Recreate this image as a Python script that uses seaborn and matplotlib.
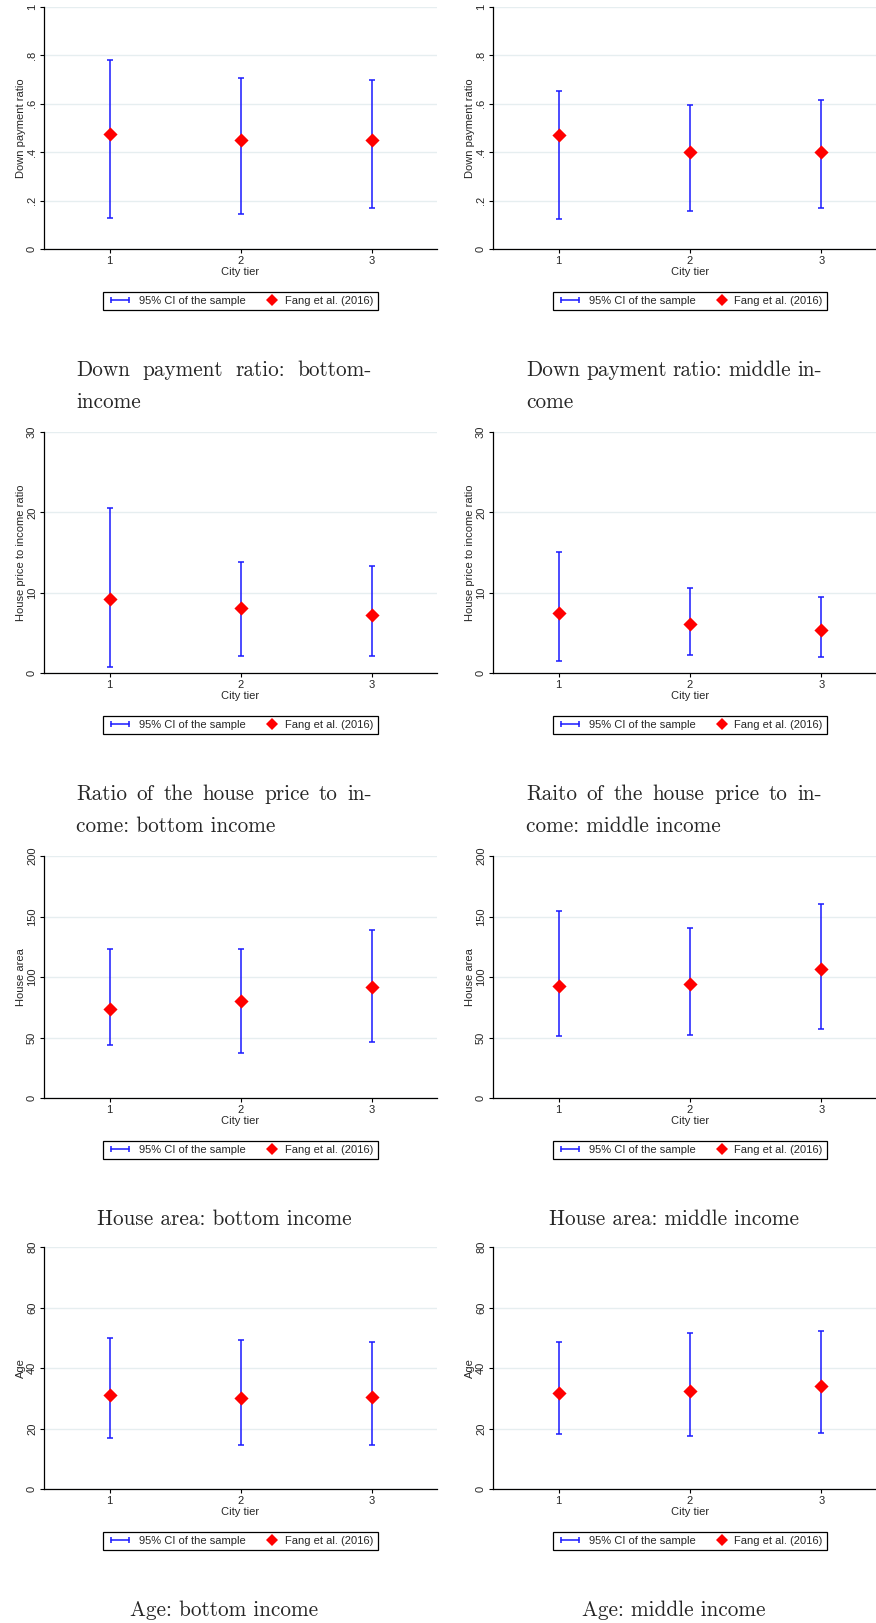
import matplotlib
matplotlib.use("Agg")
import numpy as np
import matplotlib.pyplot as plt
import seaborn as sns
from matplotlib.lines import Line2D
from matplotlib.legend_handler import HandlerLine2D

# City tiers on the x axis
tiers = [1, 2, 3]

# Down payment ratio (95% CI bounds of the sample, Fang et al. 2016 value)
dp_bot_lo = [0.127, 0.146, 0.171]
dp_bot_hi = [0.780, 0.705, 0.697]
dp_bot_fang = [0.475, 0.449, 0.449]
dp_mid_lo = [0.125, 0.158, 0.168]
dp_mid_hi = [0.652, 0.594, 0.614]
dp_mid_fang = [0.470, 0.402, 0.402]

# House price to income ratio
pti_bot_lo = [0.8, 2.1, 2.1]
pti_bot_hi = [20.5, 13.8, 13.3]
pti_bot_fang = [9.15, 8.05, 7.25]
pti_mid_lo = [1.5, 2.2, 2.05]
pti_mid_hi = [15.1, 10.55, 9.5]
pti_mid_fang = [7.45, 6.15, 5.35]

# House area
area_bot_lo = [44.0, 37.4, 46.2]
area_bot_hi = [123.5, 123.2, 138.6]
area_bot_fang = [73.7, 79.8, 91.9]
area_mid_lo = [51.4, 52.0, 57.2]
area_mid_hi = [154.9, 140.9, 160.1]
area_mid_fang = [92.7, 94.6, 106.7]

# Age
age_bot_lo = [16.7, 14.4, 14.5]
age_bot_hi = [49.9, 49.3, 48.6]
age_bot_fang = [31.2, 30.1, 30.4]
age_mid_lo = [18.3, 17.6, 18.5]
age_mid_hi = [48.6, 51.6, 52.1]
age_mid_fang = [31.7, 32.4, 34.0]

# y axis ticks and labels per row
dp_ticks = [0, 0.2, 0.4, 0.6, 0.8, 1.0]
dp_ticklabels = ["0", ".2", ".4", ".6", ".8", "1"]
pti_ticks = [0, 10, 20, 30]
area_ticks = [0, 50, 100, 150, 200]
age_ticks = [0, 20, 40, 60, 80]

legend_labels = ["95% CI of the sample", "Fang et al. (2016)"]

rows = [
    ("Down payment ratio", dp_ticks, dp_ticklabels,
     (dp_bot_lo, dp_bot_hi, dp_bot_fang), (dp_mid_lo, dp_mid_hi, dp_mid_fang),
     ["Down payment ratio: bottom-", "income"], ["Down payment ratio: middle in-", "come"]),
    ("House price to income ratio", pti_ticks, [str(t) for t in pti_ticks],
     (pti_bot_lo, pti_bot_hi, pti_bot_fang), (pti_mid_lo, pti_mid_hi, pti_mid_fang),
     ["Ratio of the house price to in-", "come: bottom income"],
     ["Raito of the house price to in-", "come: middle income"]),
    ("House area", area_ticks, [str(t) for t in area_ticks],
     (area_bot_lo, area_bot_hi, area_bot_fang), (area_mid_lo, area_mid_hi, area_mid_fang),
     ["House area: bottom income"], ["House area: middle income"]),
    ("Age", age_ticks, [str(t) for t in age_ticks],
     (age_bot_lo, age_bot_hi, age_bot_fang), (age_mid_lo, age_mid_hi, age_mid_fang),
     ["Age: bottom income"], ["Age: middle income"]),
]

sns.set_theme(style="white")
plt.rcParams["font.family"] = ["Liberation Sans", "DejaVu Sans"]

W, H = 876, 1623
fig = plt.figure(figsize=(W / 100, H / 100), dpi=100)

row_tops = [7, 432, 856, 1247]
row_bottoms = [249, 673, 1098, 1489]
col_x = [(44, 437), (493, 887)]
cap_cols = [(76, 372), (526, 822)]
cap_fs = 15.3


class MarkerRight(HandlerLine2D):
    # put the legend marker near the right end of its key, like Stata does
    def create_artists(self, legend, orig_handle, xdescent, ydescent, width,
                       height, fontsize, trans):
        arts = super().create_artists(legend, orig_handle, xdescent, ydescent,
                                      width, height, fontsize, trans)
        for a in arts:
            a.set_xdata([-xdescent + width - 4])
        return arts


def px_axes(x0, top, x1, bottom):
    return fig.add_axes([x0 / W, 1 - bottom / H, (x1 - x0) / W, (bottom - top) / H])


def caption_line(text, x0, x1, y, justify):
    r = fig.canvas.get_renderer()
    if not justify:
        fig.text(x0 / W, 1 - y / H, text, fontfamily="cmr10", fontsize=cap_fs,
                 ha="left", va="baseline")
        return
    words = text.split(" ")
    ts = [fig.text(0, 1 - y / H, w, fontfamily="cmr10", fontsize=cap_fs,
                   ha="left", va="baseline") for w in words]
    widths = [t.get_window_extent(r).width for t in ts]
    gap = (x1 - x0 - sum(widths)) / (len(words) - 1)
    x = x0
    for t, w in zip(ts, widths):
        t.set_x(x / W)
        x += w + gap


for i, (ylab, ticks, ticklabels, bot, mid, cap_l, cap_r) in enumerate(rows):
    for j, (lo, hi, fang) in enumerate([bot, mid]):
        x0, x1 = col_x[j]
        ax = px_axes(x0, row_tops[i], x1, row_bottoms[i])
        lo = np.array(lo)
        hi = np.array(hi)
        c = (lo + hi) / 2
        ax.errorbar(tiers, c, yerr=[c - lo, hi - c], fmt="none", ecolor="#1a1aff",
                    elinewidth=1.1, capsize=2.2, capthick=1.1, zorder=2)
        sns.scatterplot(x=tiers, y=fang, marker="D", color="red", s=52,
                        linewidth=0, ax=ax, zorder=3, legend=False)

        ax.set_xlim(0.5, 3.5)
        ax.set_xticks(tiers)
        ax.set_ylim(ticks[0], ticks[-1])
        ax.set_yticks(ticks)
        ax.set_yticklabels(ticklabels, rotation=90, va="center")
        ax.grid(axis="y", color="#e6eef0", lw=1)
        ax.grid(axis="x", visible=False)
        ax.set_axisbelow(True)
        for s in ["top", "right"]:
            ax.spines[s].set_visible(False)
        for s in ["left", "bottom"]:
            ax.spines[s].set_color("black")
            ax.spines[s].set_linewidth(0.9)
        ax.tick_params(axis="both", length=3, width=0.8, color="black", labelsize=8,
                       direction="out", bottom=True, left=True, pad=2)
        ax.set_xlabel("City tier", fontsize=8, labelpad=1)
        ax.set_ylabel(ylab, fontsize=8, labelpad=1)

        axh = row_bottoms[i] - row_tops[i]
        h_ci = Line2D([], [], color="#1a1aff", lw=1.1, marker="|", markersize=5,
                      markeredgewidth=1.1)
        h_f = Line2D([], [], color="red", marker="D", linestyle="none",
                     markersize=5.8, markeredgewidth=0)
        leg = ax.legend([h_ci, h_f], legend_labels, loc="upper center",
                        bbox_to_anchor=(0.5, -37 / axh), ncol=2, fontsize=8,
                        frameon=True, fancybox=False, edgecolor="black",
                        framealpha=1, borderpad=0.4, handlelength=2.2,
                        handletextpad=0.6, columnspacing=0.7,
                        handler_map={h_ci: HandlerLine2D(numpoints=2),
                                     h_f: MarkerRight(numpoints=1)})
        leg.get_frame().set_linewidth(0.9)

        # caption under the panel
        cx0, cx1 = cap_cols[j]
        lines = cap_l if j == 0 else cap_r
        base = row_bottoms[i] + 127
        if len(lines) == 1:
            fig.text((cx0 + cx1) / 2 / W, 1 - base / H, lines[0], fontfamily="cmr10",
                     fontsize=cap_fs, ha="center", va="baseline")
        else:
            caption_line(lines[0], cx0, cx1, base, True)
            caption_line(lines[1], cx0, cx1, base + 32, False)

fig.savefig("out.png", dpi=100)
